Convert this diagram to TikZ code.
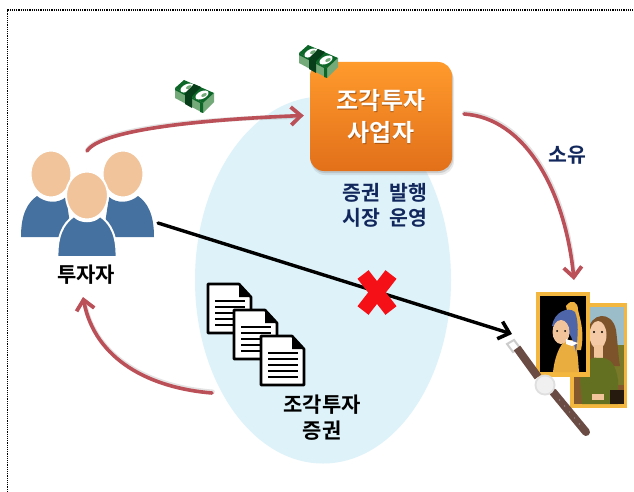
\documentclass[tikz,border=0pt]{standalone}
\usepackage{fontspec}
\newfontfamily\kr{Noto Sans CJK KR}[BoldFont={Noto Sans CJK KR Bold}]
\usetikzlibrary{arrows.meta,calc,shapes.geometric}
\definecolor{ell}{HTML}{DDF2F9}
\definecolor{arrowred}{HTML}{BC5058}
\definecolor{navy}{HTML}{12285C}
\definecolor{skin}{HTML}{F2C49B}
\definecolor{bodyblue}{HTML}{44719F}
\definecolor{billg}{HTML}{0C6628}
\definecolor{billl}{HTML}{74A97A}
\definecolor{framegold}{HTML}{F3B73F}
\definecolor{boxtop}{HTML}{FF9A2C}
\definecolor{boxbot}{HTML}{E2701A}
\definecolor{strap}{HTML}{6A4C45}
\definecolor{textshadow}{HTML}{A8540F}
\definecolor{crossred}{HTML}{F50F16}
\tikzset{
  x=1pt,y=-1pt,
  conn/.style={draw=arrowred,line width=3.6pt,line cap=round,-{Straight Barb[length=10pt,width=18pt,line width=3.8pt]}},
  connshadow/.style={draw=black!50,opacity=.22,line width=4.5pt,line cap=round},
  blackconn/.style={draw=black,line width=3.4pt,line cap=round,-{Straight Barb[length=10pt,width=18pt,line width=3.6pt]}},
  lab/.style={font=\kr\bfseries\fontsize{21}{26}\selectfont,text=black,align=center,inner sep=0pt},
  labnavy/.style={font=\kr\bfseries\fontsize{20.5}{25}\selectfont,text=navy,align=center,inner sep=0pt},
  bizstyle/.style={font=\kr\bfseries\fontsize{24}{32}\selectfont,align=center,inner sep=0pt},
  docbox/.style={draw=black,line width=2.6pt,fill=white,line join=round},
  docline/.style={draw=black,line width=1.9pt},
  crossarm/.style={draw=crossred,line width=14pt},
  headstyle/.style={fill=skin,draw=white,line width=2pt},
}
\newcommand{\docicon}[2]{%
  \begin{scope}[shift={(#1,#2)}]
    \draw[docbox] (0,0) -- (31,0) -- (43,13) -- (43,49) -- (0,49) -- cycle;
    \fill[black] (31,0) -- (43,13) -- (31,13) -- cycle;
    \foreach \yy in {17,23,29,35,41}{\draw[docline] (7,\yy) -- (37,\yy);}
  \end{scope}}
\newcommand{\moneyicon}[2]{%
  \begin{scope}[shift={(#1,#2)}]
    \fill[billl] (-20,-9) -- (8,6) -- (19,-4) -- (19,5) -- (8,16) -- (-20,1) -- cycle;
    \fill[billg] (-20,-9) -- (8,6) -- (8,16) -- (5,15) -- (5,6) -- (-20,-7) -- cycle;
    \fill[billg] (-11,-17) -- (19,-4) -- (8,6) -- (-20,-9) -- cycle;
    \fill[white,rotate around={25:(-8,-9)}] (-8,-9) ellipse (7 and 3.8);
    \fill[white,rotate around={25:(7,-2)}] (7,-2) ellipse (7 and 3.8);
    \fill[billg!60!black] (-1,-13) -- (6,-10) -- (-3,-1) -- (-10,-4) -- cycle;
    \fill[billg!60!black] (-10,-4) -- (-3,-1) -- (-3,11) -- (-10,7) -- cycle;
    \fill[billl,rotate around={25:(-8,-9)}] (-6,-9) ellipse (3 and 1.6);
    \fill[billl,rotate around={25:(9,-2)}] (9,-2) ellipse (3 and 1.6);
  \end{scope}}
\begin{document}
\begin{tikzpicture}
\useasboundingbox (0,0) rectangle (634,492);
\fill[white] (0,0) rectangle (634,492);
\coordinate (fa) at (7.5,492);
\coordinate (fb) at (7.5,10);
\coordinate (fc) at (634,10);
\draw[black,line width=1.5pt,dash pattern=on 1.2pt off 1pt] (fa) -- (fb) -- (fc);
% ellipse
\node[ellipse,minimum width=256pt,minimum height=367pt,fill=ell,inner sep=0pt] (market) at (323,280) {};
% box
\fill[black!45,opacity=.18,rounded corners=14pt] (311,66) rectangle (454,175);
\fill[black!45,opacity=.3,rounded corners=14pt] (311,64) rectangle (453,173);
\node[rounded corners=14pt,minimum width=142pt,minimum height=109pt,top color=boxtop,bottom color=boxbot,inner sep=0pt] (biz) at (381,116.5) {};
\node[bizstyle,text=textshadow] at (381.8,117.8) {조각투자\\사업자};
\node[bizstyle,text=white] (bizlab) at (381,117) {조각투자\\사업자};
% people
\fill[bodyblue] (21,237) .. controls (21,215) and (27,203) .. (37,196) .. controls (45,203) and (58,204) .. (66,197) -- (72,237) -- cycle;
\fill[bodyblue] (154,237) .. controls (154,215) and (148,203) .. (138,196) .. controls (130,203) and (117,204) .. (109,197) -- (103,237) -- cycle;
\path[headstyle] (51,174) ellipse (20.5 and 23.5);
\path[headstyle] (123,174) ellipse (20.5 and 23.5);
\fill[bodyblue,draw=white,line width=2pt] (57.5,257) .. controls (57,238) and (62,224) .. (74,216) .. controls (80,223) and (94,223) .. (100,216) .. controls (112,224) and (117,238) .. (116.5,257) -- cycle;
\path[headstyle] (87,195.5) ellipse (21 and 24);
\coordinate (invtop) at (87,151);
\coordinate (invright) at (158,223);
\coordinate (invbot) at (83,297);
\node[lab] (invlab) at (86,275) {투자자};
% paintings
\fill[framegold] (570,303) rectangle (627,408);
\fill[black!85!brown] (574,307) rectangle (624,404);
\fill[brown!70!black] (574,345) rectangle (624,404);
\fill[cyan!35!gray!70] (574,307) rectangle (624,345);
\fill[brown!75!black!85!green] (606,345) rectangle (624,385);
\fill[brown!65!black] (588,332) .. controls (590,312) and (612,310) .. (616,330) .. controls (618,345) and (618,355) .. (620,366) -- (586,366) .. controls (587,350) and (587,342) .. (588,332) -- cycle;
\fill[skin!90!white] (598,335) ellipse (8.5 and 14);
\fill[skin] (594,345) rectangle (603,362);
\fill[green!25!brown!70!black] (582,404) -- (580,380) .. controls (585,362) and (590,356) .. (598,358) .. controls (610,356) and (616,365) .. (618,380) -- (618,404) -- cycle;
\fill[skin] (592,394) rectangle (604,400);
\fill[black!80!brown] (610,390) rectangle (624,404);
\fill[black] (594,332) circle (1.1) (602,332) circle (1.1);
\fill[framegold] (536,292) rectangle (590,377);
\fill[black] (540,296) rectangle (586,372);
\fill[framegold!80!brown] (553,372) .. controls (555,355) and (560,345) .. (566,340) -- (574,340) .. controls (578,350) and (578,360) .. (579,372) -- cycle;
\fill[framegold!90!brown] (566,306) .. controls (572,298) and (578,302) .. (578,310) .. controls (582,325) and (584,335) .. (581,350) -- (575,350) -- cycle;
\fill[cyan!30!blue!70!gray] (552,326) .. controls (554,312) and (568,306) .. (575,312) .. controls (579,322) and (578,335) .. (576,352) .. controls (572,335) and (568,326) .. (552,326) -- cycle;
\fill[skin] (561,332) ellipse (8.5 and 12);
\fill[white] (566,339) -- (578,343) -- (572,346) -- (566,344) -- cycle;
\fill[black] (557,331) circle (1) (565,331) circle (1);
% watch
\coordinate (watchtop) at (512,334);
\draw[gray!40,line width=2pt] (507,344) -- (514,340) -- (520,348) -- (513,352) -- cycle;
\draw[strap,line width=8pt] (517,348) -- (538,377);
\draw[strap,line width=8pt,line cap=round] (553,392) -- (586,432);
\foreach \f in {.2,.35,.5,.65,.8}{\fill[strap!60!white] ($(553,392)!\f!(586,432)$) circle (.7);}
\fill[gray!25] (545,385) circle (10.5);
\fill[black!6] (545,385) circle (8.5);
% connectors
\draw[connshadow,transform canvas={shift={(.6,-1.2)}}] (invtop) .. controls (100,131) and (190,120) .. (296,118);
\draw[connshadow,transform canvas={shift={(.6,-1.2)}}] (464,114) .. controls (525,118) and (565,190) .. (573,272);
\draw[connshadow,transform canvas={shift={(.6,-1.2)}}] (212,393) .. controls (150,388) and (95,360) .. (84,304);
\draw[conn] (invtop) .. controls (100,131) and (190,120) .. ([xshift=-6pt,yshift=1pt]biz.west);
\draw[conn] (464,114) .. controls (525,118) and (565,190) .. (574,280);
\draw[conn] (212,393) .. controls (150,388) and (95,360) .. (invbot);
\draw[blackconn] (invright) -- (watchtop);
% cross
\node[inner sep=0pt,minimum size=0pt] (cross) at (377,292.5) {};
\draw[crossarm] ($(cross)+(-14,-18)$) -- ($(cross)+(14,18)$);
\draw[crossarm] ($(cross)+(14,-18)$) -- ($(cross)+(-14,18)$);
% money
\moneyicon{195}{97}
\moneyicon{319}{62}
% docs
\docicon{208}{284}
\docicon{234}{310}
\docicon{261}{336}
% labels
\node[labnavy] (mkt) at (385,205.5) {증권\hspace{5pt} 발행\\시장\hspace{5pt} 운영};
\node[labnavy] (own) at (567,155) {소유};
\node[lab] (sec) at (322,417.5) {조각투자\\증권};
\end{tikzpicture}
\end{document}
